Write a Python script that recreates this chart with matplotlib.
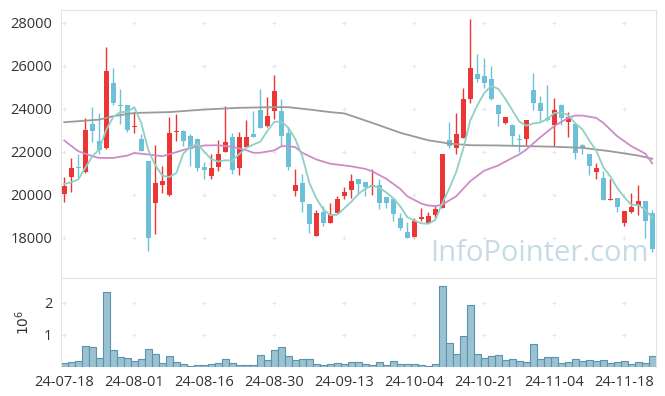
import matplotlib
matplotlib.use("Agg")
import matplotlib.pyplot as plt
import numpy as np

# daily candles, 2024-07-18 .. 2024-11-22 (trading days)
opens = [20050, 20840, 21270, 21060, 23320, 22510, 22160, 25180, 24200, 24160,
         23180, 22580, 21600, 19630, 20450, 19990, 22920, 22950, 22730, 22580,
         21290, 20870, 21290, 21990, 22700, 21230, 22220, 22850, 23970, 23200,
         23890, 23920, 22890, 20170, 20560, 19600, 18080, 19210, 18700, 19170,
         19940, 20220, 20720, 20610, 20370, 20440, 19910, 19790, 18930, 18280,
         18030, 18860, 18700, 19090, 19400, 22540, 22190, 22650, 24440, 25640,
         25520, 25400, 24200, 23350, 23270, 22610, 22580, 24900, 24280, 23580,
         23240, 24200, 23380, 23320, 22310, 21880, 21060, 20790, 19750, 19860,
         18700, 19230, 19480, 19710, 19170]
highs = [20840, 21720, 21910, 23580, 24090, 23820, 26880, 25910, 24930, 24160,
         23860, 22810, 21600, 22310, 21340, 23630, 23770, 23000, 22840, 22650,
         21540, 21880, 22540, 24130, 22890, 22920, 23470, 23890, 24930, 24560,
         25580, 24440, 23160, 21210, 20950, 19600, 19290, 19480, 19630, 19940,
         20370, 20990, 20720, 20610, 21210, 20720, 19910, 19790, 19170, 18730,
         18930, 19400, 19210, 19550, 21900, 23380, 23820, 24950, 28190, 26560,
         26370, 25990, 24210, 23620, 23280, 22810, 23460, 25680, 24590, 25090,
         24510, 24210, 23850, 23320, 22390, 21880, 21490, 21100, 20720, 19870,
         19250, 20100, 20480, 19710, 19290]
lows = [19670, 20140, 20790, 21030, 22450, 21880, 22150, 24200, 23320, 22920,
        22890, 22060, 17380, 18190, 20100, 19940, 22500, 22270, 21340, 21100,
        20720, 20720, 21100, 21980, 20980, 20920, 22210, 22680, 23110, 23160,
        23510, 22270, 21150, 19970, 19210, 18240, 18070, 18550, 18690, 19160,
        19790, 19860, 20050, 19970, 20020, 19350, 19400, 18810, 18360, 18000,
        18030, 18780, 18690, 18930, 19390, 22190, 21880, 22650, 24250, 25240,
        24980, 24430, 23200, 23300, 22270, 21990, 22340, 23970, 23430, 23430,
        22270, 23270, 22700, 21650, 21910, 20920, 20750, 19750, 19750, 19210,
        18550, 19170, 19090, 18000, 17340]
closes = [20430, 21260, 21240, 23040, 22960, 22110, 25780, 24250, 24130, 23040,
          23200, 22060, 18020, 20560, 20640, 22890, 22990, 22500, 22140, 21260,
          21150, 21260, 21920, 22470, 21180, 22680, 22700, 22680, 23120, 23690,
          24810, 22730, 21290, 20480, 19680, 18650, 19170, 18680, 19120, 19790,
          20130, 20670, 20510, 20370, 20480, 19630, 19630, 19120, 18470, 18000,
          18810, 18980, 19040, 19350, 21880, 22270, 22810, 24440, 25910, 25370,
          25180, 24440, 23740, 23610, 22730, 22540, 23460, 24250, 23890, 23460,
          23970, 23580, 23630, 21960, 22160, 21340, 21230, 19750, 19830, 19440,
          19240, 19440, 19710, 18780, 17490]
# volume in millions
volume = [0.12, 0.155, 0.2, 0.65, 0.62, 0.28, 2.32, 0.53, 0.31, 0.28,
          0.19, 0.25, 0.56, 0.40, 0.12, 0.34, 0.155, 0.09, 0.03, 0.06,
          0.06, 0.09, 0.12, 0.25, 0.12, 0.06, 0.06, 0.06, 0.37, 0.22,
          0.53, 0.62, 0.34, 0.22, 0.25, 0.25, 0.09, 0.06, 0.09, 0.12,
          0.09, 0.155, 0.155, 0.09, 0.06, 0.155, 0.06, 0.19, 0.09, 0.09,
          0.09, 0.06, 0.03, 0.09, 2.51, 0.74, 0.40, 0.96, 1.92, 0.40,
          0.28, 0.34, 0.37, 0.22, 0.25, 0.19, 0.155, 0.71, 0.25, 0.31,
          0.31, 0.12, 0.155, 0.25, 0.19, 0.22, 0.19, 0.22, 0.12, 0.155,
          0.19, 0.09, 0.155, 0.12, 0.34]

# 5-day average
ma5 = [20510, 20590, 20720, 21260, 21790, 22120, 23030, 23630, 23850, 23860,
       24080, 23340, 22090, 21380, 20900, 20830, 21020, 21920, 22230, 22360,
       22010, 21660, 21550, 21610, 21600, 21900, 22190, 22340, 22470, 22970,
       23400, 23410, 23130, 22600, 21800, 20570, 19850, 19330, 19060, 19080,
       19380, 19680, 20040, 20290, 20430, 20330, 20120, 19850, 19470, 18970,
       18810, 18680, 18660, 18840, 19610, 20300, 21070, 22150, 23460, 24160,
       24740, 25070, 24930, 24470, 23940, 23410, 23220, 23320, 23370, 23520,
       23810, 23830, 23710, 23320, 23060, 22530, 22060, 21290, 20860, 20320,
       19900, 19540, 19530, 19320, 18930]
# 20-day and 60-day averages, sampled along the lines
ma20_x = [0, 2, 4, 5, 7, 9, 10, 12, 14, 16, 18, 20, 22, 24, 26, 27, 28, 30, 31,
          32, 33, 34, 36, 38, 39, 41, 43, 44, 46, 48, 49, 51, 52, 53, 54, 56,
          58, 60, 62, 64, 65, 66, 68, 70, 72, 73, 74, 76, 77, 79, 81, 83, 84]
ma20 = [22530, 22030, 21800, 21720, 21720, 21830, 21950, 21880, 21800, 21990,
        22190, 22300, 22310, 22240, 22080, 21960, 21960, 22070, 22260, 22270,
        22220, 21960, 21650, 21450, 21410, 21330, 21210, 21100, 20750, 20280,
        19940, 19600, 19510, 19480, 19550, 19940, 20640, 21130, 21370, 21720,
        21880, 22110, 22680, 23200, 23580, 23690, 23690, 23580, 23350, 22730,
        22270, 21920, 21470]
ma60_x = [0, 5, 7, 10, 15, 20, 25, 30, 32, 35, 38, 40, 44, 48, 52, 55, 58, 62,
          66, 70, 74, 78, 82, 84]
ma60 = [23380, 23500, 23660, 23810, 23850, 23970, 24050, 24080, 24080, 23970,
        23850, 23790, 23350, 22890, 22540, 22390, 22310, 22300, 22270, 22240,
        22190, 22030, 21830, 21680]

tick_pos = [0, 10, 20, 30, 40, 50, 60, 70, 80]
tick_labels = ['24-07-18', '24-08-01', '24-08-16', '24-08-30', '24-09-13',
               '24-10-04', '24-10-21', '24-11-04', '24-11-18']

plt.rcParams['font.family'] = ['Open Sans', 'DejaVu Sans']
up_col = '#ec3535'
down_col = '#6cc0d8'
frame_col = '#e3e3e3'
text_col = '#333333'

fig = plt.figure(figsize=(6.65, 3.96), dpi=100)
ax = fig.add_axes([0.0914, 0.298, 0.8947, 0.677])
axv = fig.add_axes([0.0914, 0.073, 0.8947, 0.225], sharex=ax)

x = np.arange(len(closes))
o = np.array(opens)
c = np.array(closes)
colors = [up_col if c[i] >= o[i] else down_col for i in range(len(c))]

# wicks then bodies
ax.vlines(x, lows, highs, colors=colors, linewidth=1.0, zorder=2)
body_low = np.minimum(o, c)
body_h = np.maximum(np.abs(c - o), 40)
ax.bar(x, body_h, bottom=body_low, width=0.66, color=colors, linewidth=0, zorder=3)

ax.plot(ma60_x, ma60, color='#9a9a9a', linewidth=1.3, zorder=4)
ax.plot(ma20_x, ma20, color='#cc8cc8', linewidth=1.3, zorder=4)
ax.plot(x, ma5, color='#8fd0c4', linewidth=1.3, zorder=4)

ax.text(0.805, 0.09, 'InfoPointer.com', transform=ax.transAxes, fontsize=21,
        color='#c6dbe6', ha='center', va='center', zorder=1)

ax.set_xlim(-0.5, 84.5)
ax.set_ylim(16140, 28600)
yt = [18000, 20000, 22000, 24000, 26000, 28000]
ax.set_yticks(yt)
ax.set_yticklabels([str(v) for v in yt])

# grid crosses
gx, gy = np.meshgrid(tick_pos, yt)
ax.scatter(gx.ravel(), gy.ravel(), marker='+', s=10, color='#e6e6e6', linewidths=0.7, zorder=0)

axv.bar(x, volume, width=1.0, color='#9bc2d2', edgecolor='#5b93ad', linewidth=0.8, zorder=2)
axv.set_ylim(0, 2.76)
axv.set_yticks([1, 2])
axv.set_yticklabels(['1', '2'])
axv.set_ylabel(r'$10^6$', color=text_col, fontsize=10, labelpad=8)
vx, vy = np.meshgrid(tick_pos, [1, 2])
axv.scatter(vx.ravel(), vy.ravel(), marker='+', s=10, color='#e6e6e6', linewidths=0.7, zorder=0)

axv.set_xticks(tick_pos)
axv.set_xticklabels(tick_labels)
ax.tick_params(axis='x', labelbottom=False)

for a in (ax, axv):
    a.tick_params(length=0, colors=text_col, labelsize=10.5, pad=6)
    for s in a.spines.values():
        s.set_color(frame_col)
axv.spines['bottom'].set_visible(False)
ax.spines['bottom'].set_visible(False)

fig.savefig('out.png', dpi=100)
